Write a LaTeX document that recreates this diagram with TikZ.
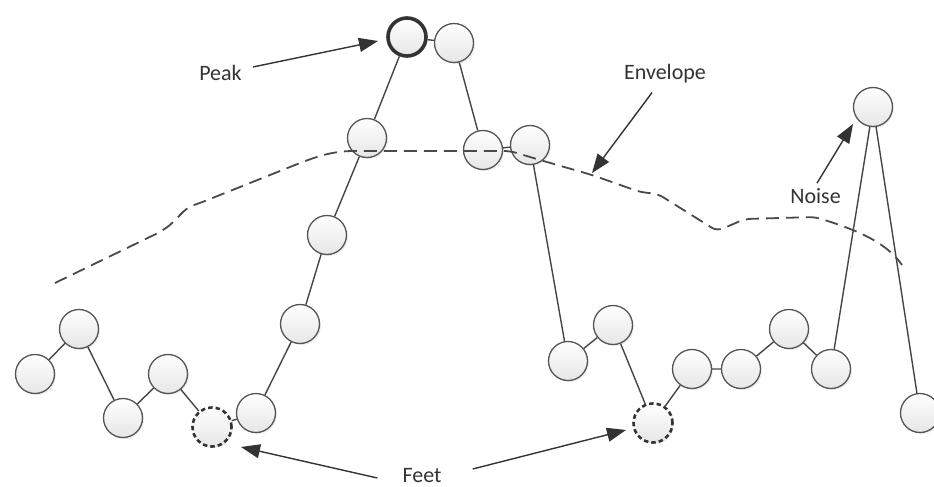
\documentclass[tikz,border=0pt]{standalone}
\usepackage{fontspec}
\setmainfont{Carlito}
\usetikzlibrary{arrows.meta,shadows}
\definecolor{edgec}{HTML}{454545}
\definecolor{circc}{HTML}{555555}
\definecolor{darkc}{HTML}{333333}
\definecolor{fillb}{HTML}{E6E6E6}
\definecolor{envc}{HTML}{4A4A4A}
\begin{document}
\begin{tikzpicture}[x=1pt,y=-1pt,
  dot/.style={circle,minimum size=39pt,inner sep=0pt,draw=circc,line width=1.3pt,
    top color=white,bottom color=fillb,
    drop shadow={opacity=0.15,shadow xshift=1.5pt,shadow yshift=-1.5pt}},
  peakdot/.style={dot,draw=darkc,line width=3.6pt,minimum size=38pt},
  footdot/.style={dot,draw=darkc,line width=2.6pt,dash pattern=on 4.5pt off 3pt,minimum size=39pt},
  link/.style={draw=edgec,line width=1.4pt},
  env/.style={draw=envc,line width=1.8pt,dash pattern=on 13pt off 7pt,rounded corners=6pt},
  arr/.style={draw=darkc,line width=1.4pt,-{Triangle[length=19pt,width=14pt]}},
  lbl/.style={inner sep=0pt,font=\fontsize{22}{24}\selectfont,text=darkc}]
\useasboundingbox (0,0) rectangle (934,487);

% circles
\node[dot] (c1) at (35,374) {};
\node[dot] (c2) at (79,329) {};
\node[dot] (c3) at (123,418) {};
\node[dot] (c4) at (168,374) {};
\node[footdot] (f1) at (212,427) {};
\node[dot] (c6) at (256,413) {};
\node[dot] (c7) at (300,324) {};
\node[dot] (c8) at (327,235) {};
\node[dot] (c9) at (367,138) {};
\node[peakdot] (pk) at (407,37) {};
\node[dot] (c11) at (454,43) {};
\node[dot] (c12) at (483,150) {};
\node[dot] (c13) at (530,145) {};
\node[dot] (c14) at (568,361) {};
\node[dot] (c15) at (613,325) {};
\node[footdot] (f2) at (653,423) {};
\node[dot] (c17) at (692,369) {};
\node[dot] (c18) at (741,369) {};
\node[dot] (c19) at (789,329) {};
\node[dot] (c20) at (831,369) {};
\node[dot] (c21) at (873,107) {};
\node[dot] (c22) at (920,413) {};

% connections
\draw[link] (c1)--(c2)--(c3)--(c4)--(f1)--(c6)--(c7)--(c8)--(c9)--(pk)--(c11)--(c12)--(c13)--(c14)--(c15)--(f2)--(c17)--(c18)--(c19)--(c20)--(c21)--(c22);

% envelope
\draw[env] (55,283) -- (160,232) .. controls (178,220) and (182,209) .. (200,203)
  -- (290,167) .. controls (320,155) and (335,151) .. (360,151)
  -- (510,151) -- (540,160) -- (592,175) -- (640,192) -- (658,194)
  -- (717,231) -- (745,219) -- (815,217)
  .. controls (850,228) and (885,240) .. (902,265);

% labels
\node[lbl] (lpk) at (220.5,72.5) {Peak};
\node[lbl] (lenv) at (665,74) {Envelope};
\node[lbl] (lnoise) at (815.5,196) {Noise};
\node[lbl] (lfeet) at (422,476) {Feet};

% arrow tips
\coordinate (tpk) at (378,41);
\coordinate (tenv) at (592,173);
\coordinate (tnoise) at (853,124);
\coordinate (tfl) at (241,447);
\coordinate (tfr) at (626,430);

\draw[arr] ([shift={(11,-5.5)}]lpk.east) -- (tpk);
\draw[arr] ([shift={(-13,9)}]lenv.south) -- (tenv);
\draw[arr] ([shift={(1.5,-5)}]lnoise.north) -- (tnoise);
\draw[arr] ([shift={(-25,2)}]lfeet.west) -- (tfl);
\draw[arr] ([shift={(31,-7)}]lfeet.east) -- (tfr);
\end{tikzpicture}
\end{document}
